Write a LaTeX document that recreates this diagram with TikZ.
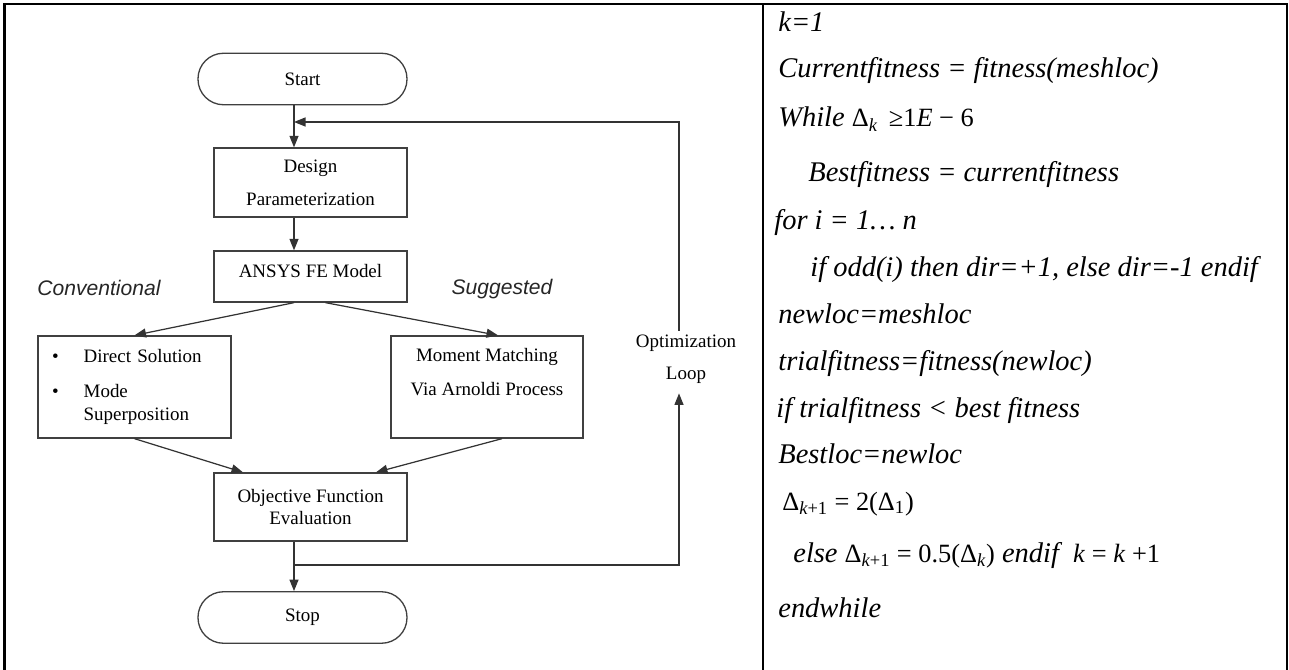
\documentclass[tikz,border=0pt]{standalone}
\usepackage{fontspec}
\setmainfont{Liberation Serif}
\newfontfamily\arialfont{Liberation Sans}
\usetikzlibrary{arrows.meta,calc}

% upright math-like parts of the pseudo code
\newcommand\mathup[1]{{\upshape\fontsize{15}{17}\selectfont #1}}

\tikzset{
  flow/.style={draw=black!75, line width=0.75pt, align=center, inner sep=2pt,
    font=\fontsize{10.8}{13}\selectfont},
  procbox/.style={flow, rectangle, minimum width=3.86cm},
  termbox/.style={flow, rectangle, rounded corners=0.51cm, minimum width=4.18cm, minimum height=1.03cm},
  link/.style={draw=black!80, line width=0.7pt, -{Triangle[length=2.3mm,width=1.8mm]}},
  branchlabel/.style={font=\arialfont\itshape\fontsize{12}{14}\selectfont, text=black!85},
  codeline/.style={anchor=base west, inner sep=0pt, font=\itshape\fontsize{16.2}{19}\selectfont},
}

\begin{document}
\begin{tikzpicture}
  \useasboundingbox (0,0) rectangle (25.78,-13.4);

  % table frame
  \draw[line width=1.5pt] (0.09,-13.4) -- (0.09,-0.08) -- (25.74,-0.08) -- (25.74,-13.4);
  \draw[line width=1.5pt] (15.26,-0.08) -- (15.26,-13.4);

  % flow chart
  \node[termbox] (start) at (6.05,-1.58) {Start};
  \node[procbox, minimum height=1.38cm] (design) at (6.21,-3.65) {Design\\[0.2cm]Parameterization};
  \node[procbox, minimum height=1.02cm, text depth=0.24cm] (ansys) at (6.21,-5.53) {ANSYS FE Model};
  \node[procbox, minimum height=2.04cm, align=left, text width=3.3cm] (conv) at (2.69,-7.74)
    {\textbullet\hspace{0.5cm}Direct Solution\\[0.24cm]
     \textbullet\hspace{0.5cm}Mode\\
     \phantom{\textbullet}\hspace{0.5cm}Superposition};
  \node[procbox, minimum width=3.84cm, minimum height=2.04cm, text depth=0.6cm] (moment) at (9.74,-7.74)
    {Moment Matching\\[0.21cm]Via Arnoldi Process};
  \node[procbox, minimum height=1.36cm] (objective) at (6.21,-10.14) {Objective Function\\Evaluation};
  \node[termbox] (stop) at (6.05,-12.35) {Stop};

  \node[branchlabel] (convlabel) at (1.98,-5.76) {Conventional};
  \node[branchlabel] (sugglabel) at (10.04,-5.78) {Suggested};
  \node[flow, draw=none] (loop) at (13.72,-7.18) {Optimization\\[0.18cm]Loop};

  \coordinate (spine) at (5.88,0);
  \coordinate (looptop) at (13.58,-2.44);
  \coordinate (loopbot) at (13.58,-11.30);
  \coordinate (branch) at (loopbot -| spine);

  \draw[link] (start.south -| spine) -- (design.north -| spine);
  \draw[link] (design.south -| spine) -- (ansys.north -| spine);
  \draw[link] (ansys.south -| spine) -- (conv.north);
  \draw[link] ([xshift=0.3cm]ansys.south) -- ([xshift=0.22cm]moment.north);
  \draw[link] (conv.south) -- ([xshift=-1.35cm]objective.north);
  \draw[link] ([xshift=0.3cm]moment.south) -- ([xshift=1.31cm]objective.north);
  \draw[link] (objective.south -| spine) -- (stop.north -| spine);
  \draw[link] (branch) -- (loopbot) -- ([yshift=-0.12cm]looptop |- loop.south);
  \draw[link] (looptop |- loop.north) -- (looptop) -- (looptop -| spine);

  % pseudo code
  \node[codeline] (c1) at (15.56,-0.64) {k=1};
  \node[codeline] (c2) at (15.56,-1.56) {Currentfitness = fitness(meshloc)};
  \node[codeline] (c3) at (15.56,-2.54) {While \mathup{Δ\textsubscript{\itshape k} \,≥1\textit{E} − 6}};
  \node[codeline] (c4) at (16.16,-3.64) {Bestfitness = currentfitness};
  \node[codeline] (c5) at (15.48,-4.60) {for i = 1… n};
  \node[codeline] (c6) at (16.20,-5.54) {if odd(i) then dir=+1, else dir=-1 endif};
  \node[codeline] (c7) at (15.56,-6.46) {newloc=meshloc};
  \node[codeline] (c8) at (15.56,-7.40) {trialfitness=fitness(newloc)};
  \node[codeline] (c9) at (15.52,-8.34) {if trialfitness < best fitness};
  \node[codeline] (c10) at (15.56,-9.26) {Bestloc=newloc};
  \node[codeline] (c11) at (15.64,-10.20) {\mathup{Δ\textsubscript{\itshape k\upshape +1} = 2(Δ\textsubscript{1})}};
  \node[codeline] (c12) at (15.86,-11.24) {else \mathup{Δ\textsubscript{\itshape k\upshape +1} = 0.5(Δ\textsubscript{\itshape k})} endif\ \ \mathup{\textit{k} = \textit{k} +1}};
  \node[codeline] (c13) at (15.56,-12.34) {endwhile};
\end{tikzpicture}
\end{document}
